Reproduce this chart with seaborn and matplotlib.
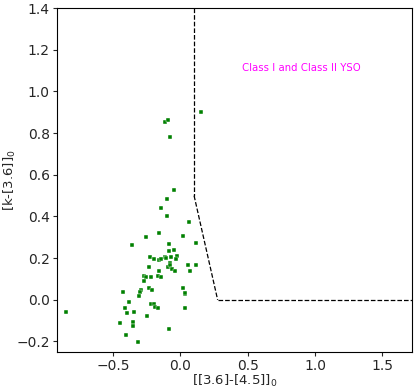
import seaborn as sns
import matplotlib
matplotlib.use('Agg')
import matplotlib.pyplot as plt
import numpy as np
import pandas as pd

# colour indices
c36_45 = [0.152, -0.115, -0.093, -0.080, -0.048, -0.103, -0.145, -0.098,
          0.066, -0.256, -0.157, -0.360, 0.019, 0.113, -0.085, -0.046,
          -0.088, -0.071, -0.113, -0.105, -0.024, -0.031, -0.227, -0.195,
          -0.160, -0.147, -0.236, -0.080, -0.091, -0.076, 0.056, 0.113,
          -0.061, -0.039, 0.073, -0.160, -0.269, -0.259, -0.167, -0.143,
          -0.217, -0.269, -0.232, -0.212, -0.294, -0.299, -0.430, -0.306,
          0.021, 0.031, 0.036, -0.383, -0.222, -0.199, -0.187, -0.170,
          -0.415, 0.031, -0.346, -0.396, -0.853, -0.247, -0.355, -0.450,
          -0.355, -0.088, -0.405, -0.318]
ck_36 = [0.903, 0.853, 0.861, 0.781, 0.525, 0.483, 0.442, 0.403,
         0.375, 0.303, 0.320, 0.262, 0.305, 0.273, 0.266, 0.239,
         0.233, 0.207, 0.204, 0.200, 0.209, 0.196, 0.204, 0.198,
         0.193, 0.195, 0.158, 0.176, 0.156, 0.169, 0.167, 0.169,
         0.147, 0.136, 0.137, 0.137, 0.116, 0.109, 0.116, 0.110,
         0.110, 0.089, 0.059, 0.046, 0.046, 0.038, 0.038, 0.018,
         0.056, 0.029, 0.031, -0.011, -0.018, -0.018, -0.033, -0.038,
         -0.038, -0.037, -0.057, -0.062, -0.059, -0.077, -0.105, -0.110,
         -0.128, -0.140, -0.169, -0.204]

# Gutermuth et al. class I / class II boundary
x_cut = 0.101
slope = -2.85714
x_top = 1.4
x_max = 1.72

df = pd.DataFrame({'x': c36_45, 'y': ck_36})

sns.set_style('ticks')
plt.rcParams['font.family'] = ['DejaVu Sans']

fig, ax = plt.subplots(figsize=(4.15, 3.88), dpi=100)
fig.subplots_adjust(left=0.137, right=0.993, top=0.979, bottom=0.093)

sns.scatterplot(data=df, x='x', y='y', marker='s', color='green', s=12,
                edgecolor='white', linewidth=0.3, ax=ax)

# boundary lines
x_knee = x_cut + 0.5 / -slope
ax.plot([x_cut, x_cut], [x_top, 0.5], 'k--', lw=0.9)
ax.plot([x_cut, x_knee], [0.5, 0.0], 'k--', lw=0.9)
ax.plot([x_knee, x_max], [0.0, 0.0], 'k--', lw=0.9)

ax.text(0.9, 1.115, 'Class I and Class II YSO', color='magenta', fontsize=7.3,
        ha='center', va='center')

ax.set_xlim(-0.918, x_max)
ax.set_ylim(-0.25, 1.4)
ax.set_xticks([-0.5, 0.0, 0.5, 1.0, 1.5])
ax.set_yticks(np.arange(-0.2, 1.41, 0.2))
ax.set_xlabel('[[3.6]-[4.5]]$_0$', fontsize=9.5)
ax.set_ylabel('[k-[3.6]]$_0$', fontsize=9.5)
ax.xaxis.set_label_coords(0.5, -0.062)
ax.yaxis.set_label_coords(-0.11, 0.5)
ax.tick_params(labelsize=10, length=3, pad=2)
for sp in ax.spines.values():
    sp.set_visible(True)
    sp.set_color('black')
    sp.set_linewidth(0.8)

fig.savefig('out.png', dpi=100)
